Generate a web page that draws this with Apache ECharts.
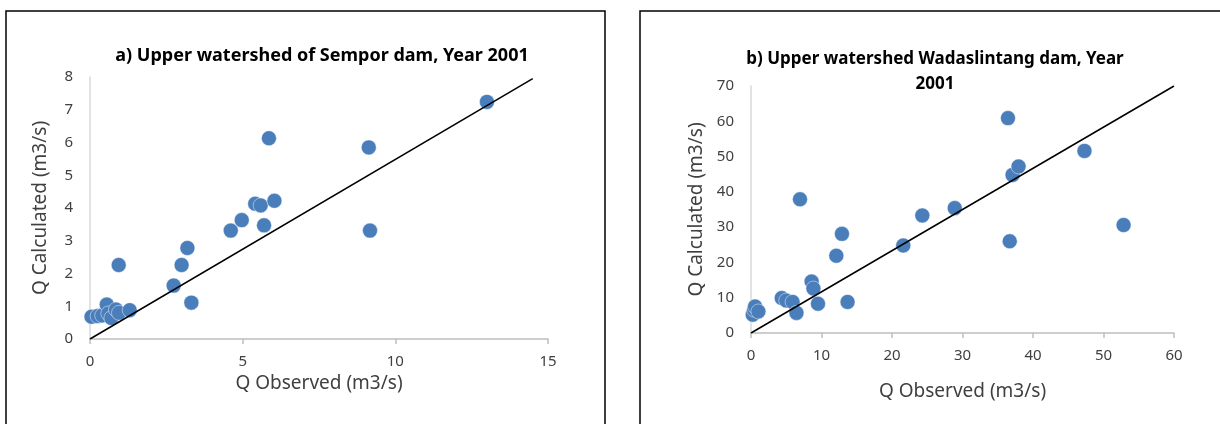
<!DOCTYPE html>
<html>
<head>
<meta charset="utf-8">
<title>Q Observed vs Q Calculated, 2001</title>
<script src="https://cdn.jsdelivr.net/npm/echarts@6/dist/echarts.min.js"></script>
<style>
  html, body { margin: 0; padding: 0; background: #fff; }
  #chart { width: 1220px; height: 424px; }
</style>
</head>
<body>
<div id="chart"></div>
<script>
// a) Sempor dam: [Q observed, Q calculated] in m3/s
const semporPoints = [
  [0.05, 0.68], [0.25, 0.70], [0.40, 0.72], [0.55, 1.05], [0.60, 0.78],
  [0.70, 0.64], [0.85, 0.90], [0.95, 0.80], [1.30, 0.88], [0.94, 2.26],
  [2.74, 1.63], [3.00, 2.26], [3.19, 2.78], [3.32, 1.11], [4.61, 3.31],
  [4.97, 3.63], [5.41, 4.13], [5.59, 4.08], [5.70, 3.47], [5.86, 6.13],
  [6.04, 4.22], [9.13, 5.85], [9.17, 3.31], [13.0, 7.24]
];
const semporLine = [[0, 0], [14.5, 7.95]];

// b) Wadaslintang dam: [Q observed, Q calculated] in m3/s
const wadasPoints = [
  [0.25, 5.2], [0.44, 6.6], [0.58, 7.5], [1.05, 6.1], [4.36, 9.9],
  [5.0, 9.2], [5.9, 8.8], [6.45, 5.7], [6.95, 37.9], [8.6, 14.6],
  [8.85, 12.6], [9.5, 8.3], [12.1, 21.9], [12.9, 28.1], [13.7, 8.8],
  [21.6, 24.8], [24.3, 33.3], [28.9, 35.4], [36.45, 60.9], [36.7, 26.0],
  [37.1, 44.8], [37.95, 47.2], [47.3, 51.6], [52.85, 30.6]
];
const wadasLine = [[0, 0], [60, 70]];

const xTicksA = { min: 0, max: 15, interval: 5 };
const yTicksA = { min: 0, max: 8, interval: 1 };
const xTicksB = { min: 0, max: 60, interval: 10 };
const yTicksB = { min: 0, max: 70, interval: 10 };

const FONT = '"Noto Sans", "Open Sans", sans-serif';
const markerColor = '#4A7EBB';
const labelColor = '#404040';

function valueAxis(idx, ticks, name, isX) {
  return {
    type: 'value',
    gridIndex: idx,
    min: ticks.min, max: ticks.max, interval: ticks.interval,
    name: name,
    nameLocation: 'middle',
    nameGap: isX ? 34 : 40,
    nameTextStyle: { fontFamily: FONT, fontSize: 19, color: labelColor },
    axisLine: { show: true, lineStyle: { color: isX ? '#bfbfbf' : '#d9d9d9', width: 1.5 } },
    axisTick: { show: isX, length: 5, lineStyle: { color: '#bfbfbf', width: 1.5 } },
    axisLabel: { fontFamily: FONT, fontSize: 15, color: labelColor, margin: isX ? 15 : 17 },
    splitLine: { show: false }
  };
}

const chart = echarts.init(document.getElementById('chart'), null, { renderer: 'canvas' });

chart.setOption({
  backgroundColor: '#ffffff',
  animation: false,
  title: [
    {
      text: 'a) Upper watershed of Sempor dam, Year 2001',
      left: 317, top: 42, textAlign: 'center',
      textStyle: { fontFamily: FONT, fontSize: 18, fontWeight: 'bold', color: '#000' }
    },
    {
      text: 'b) Upper watershed Wadaslintang dam, Year\n2001',
      left: 930, top: 42, textAlign: 'center',
      textStyle: { fontFamily: FONT, fontSize: 17, fontWeight: 'bold', color: '#000', lineHeight: 25, align: 'center' }
    }
  ],
  graphic: [
    { type: 'rect', shape: { x: 6, y: 11, width: 599, height: 430 },
      style: { fill: 'none', stroke: '#000', lineWidth: 1.5 }, silent: true },
    { type: 'rect', shape: { x: 640, y: 11, width: 600, height: 430 },
      style: { fill: 'none', stroke: '#000', lineWidth: 1.5 }, silent: true }
  ],
  grid: [
    { left: 90, top: 77, width: 458, height: 262 },
    { left: 751, top: 86, width: 423, height: 247 }
  ],
  xAxis: [
    valueAxis(0, xTicksA, 'Q Observed (m3/s)', true),
    Object.assign(valueAxis(1, xTicksB, 'Q Observed (m3/s)', true), { nameGap: 49 })
  ],
  yAxis: [
    valueAxis(0, yTicksA, 'Q Calculated (m3/s)', false),
    Object.assign(valueAxis(1, yTicksB, 'Q Calculated (m3/s)', false), { nameGap: 45 })
  ],
  series: [
    {
      type: 'line', xAxisIndex: 0, yAxisIndex: 0, data: semporLine,
      symbol: 'none', lineStyle: { color: '#000', width: 1.5 }, z: 3
    },
    {
      type: 'scatter', xAxisIndex: 0, yAxisIndex: 0, data: semporPoints,
      symbolSize: 15,
      itemStyle: { color: markerColor, opacity: 1, borderColor: 'rgba(255,255,255,0.45)', borderWidth: 1 }, z: 2
    },
    {
      type: 'line', xAxisIndex: 1, yAxisIndex: 1, data: wadasLine,
      symbol: 'none', lineStyle: { color: '#000', width: 1.5 }, z: 3
    },
    {
      type: 'scatter', xAxisIndex: 1, yAxisIndex: 1, data: wadasPoints,
      symbolSize: 15,
      itemStyle: { color: markerColor, opacity: 1, borderColor: 'rgba(255,255,255,0.45)', borderWidth: 1 }, z: 2
    }
  ]
});
</script>
</body>
</html>
